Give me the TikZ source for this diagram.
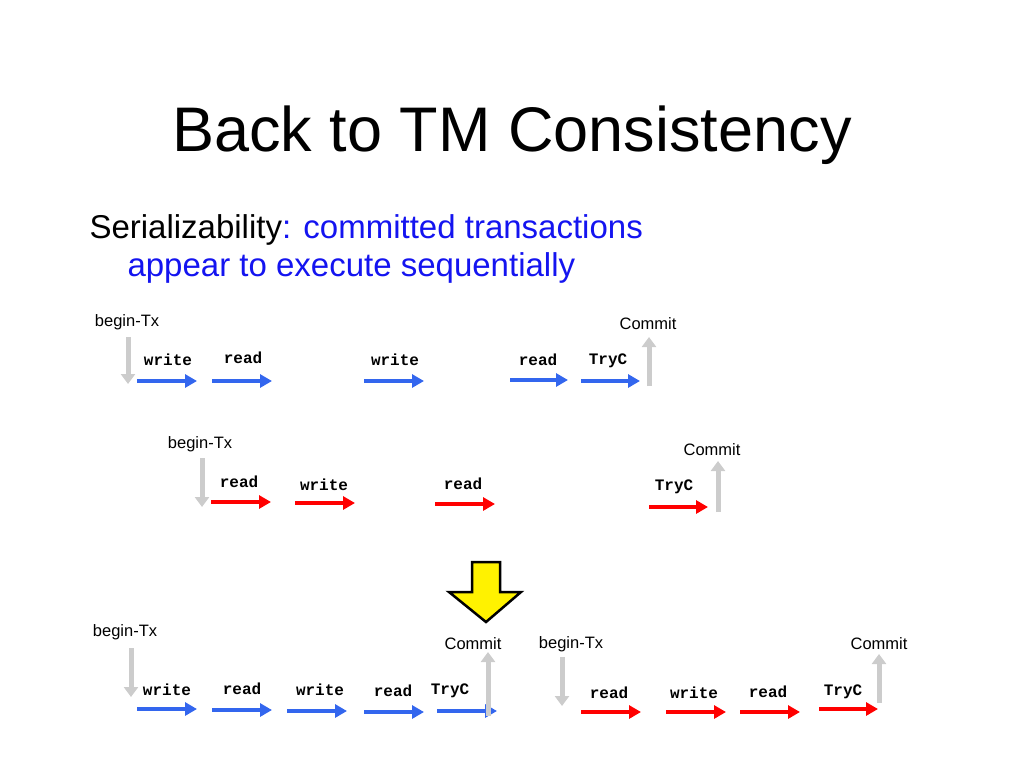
\documentclass[tikz,border=0pt]{standalone}
\usepackage{fontspec}
\setmainfont{Liberation Sans}
\setmonofont{Liberation Mono}
\usetikzlibrary{arrows.meta}
\definecolor{opblue}{RGB}{51,102,238}
\definecolor{txtblue}{RGB}{20,20,240}
\tikzset{
  op/.style={line width=4pt, -{Triangle[length=12pt,width=13pt]}},
  bluop/.style={op, draw=opblue},
  redop/.style={op, draw=red},
  bound/.style={line width=5pt, draw=black!20, -{Triangle[length=10pt,width=14pt]}},
  oplabel/.style={font=\ttfamily\bfseries\fontsize{16}{19}\selectfont},
  txlabel/.style={font=\fontsize{16.5}{19}\selectfont}
}
% one operation: name, from x, to x, y, label x, label y, text, colour style
\newcommand{\txop}[8]{
  \coordinate (#1s) at (#2,#4);
  \coordinate (#1e) at (#3,#4);
  \draw[#8] (#1s) -- (#1e);
  \node[oplabel] (#1l) at (#5,#6) {#7};
}
\begin{document}
\begin{tikzpicture}[x=1pt,y=-1pt]
  \useasboundingbox (0,0) rectangle (1024,768);

  \node[font=\fontsize{63}{70}\selectfont] (title) at (512,135) {Back to TM Consistency};
  \node[anchor=west, font=\fontsize{33}{38}\selectfont, align=left] (def) at (86,249)
    {Serializability\textcolor{txtblue}{: committed transactions}\\
     \hspace*{38pt}\textcolor{txtblue}{appear to execute sequentially}};

  % first transaction
  \node[txlabel] (b1) at (127,322) {begin-Tx};
  \coordinate (b1s) at (128,337); \coordinate (b1e) at (128,384);
  \draw[bound] (b1s) -- (b1e);
  \txop{a1}{137}{197}{381}{168}{360}{write}{bluop}
  \txop{a2}{212}{272}{381}{243}{358}{read}{bluop}
  \txop{a3}{364}{424}{381}{395}{360}{write}{bluop}
  \txop{a4}{510}{568}{380}{538}{360}{read}{bluop}
  \txop{a5}{581}{640}{381}{608}{361}{TryC}{bluop}
  \coordinate (c1s) at (649,386); \coordinate (c1e) at (649,337);
  \draw[bound] (c1s) -- (c1e);
  \node[txlabel] (c1) at (648,324) {Commit};

  % second transaction
  \node[txlabel] (b2) at (200,444) {begin-Tx};
  \coordinate (b2s) at (202,458); \coordinate (b2e) at (202,507);
  \draw[bound] (b2s) -- (b2e);
  \txop{r1}{211}{271}{502}{239}{482}{read}{redop}
  \txop{r2}{295}{355}{503}{324}{485}{write}{redop}
  \txop{r3}{435}{495}{504}{463}{484}{read}{redop}
  \txop{r4}{649}{708}{507}{674}{487}{TryC}{redop}
  \coordinate (c2s) at (718,512); \coordinate (c2e) at (718,461);
  \draw[bound] (c2s) -- (c2e);
  \node[txlabel] (c2) at (712,450) {Commit};

  % serialized
  \draw[line width=2.5pt, fill=yellow, line join=miter]
    (472,562) -- (500,562) -- (500,592) -- (521,592) -- (486,622)
    -- (449,592) -- (472,592) -- cycle;

  \node[txlabel] (b3) at (125,632) {begin-Tx};
  \coordinate (b3s) at (131,648); \coordinate (b3e) at (131,697);
  \draw[bound] (b3s) -- (b3e);
  \txop{s1}{137}{197}{709}{167}{690}{write}{bluop}
  \txop{s2}{212}{272}{710}{242}{689}{read}{bluop}
  \txop{s3}{287}{347}{711}{320}{690}{write}{bluop}
  \txop{s4}{364}{424}{712}{393}{691}{read}{bluop}
  \txop{s5}{437}{497}{711}{450}{691}{TryC}{bluop}
  \coordinate (c3s) at (488,716); \coordinate (c3e) at (488,652);
  \draw[bound] (c3s) -- (c3e);
  \node[txlabel] (c3) at (473,644) {Commit};

  \node[txlabel] (b4) at (571,644) {begin-Tx};
  \coordinate (b4s) at (562,657); \coordinate (b4e) at (562,706);
  \draw[bound] (b4s) -- (b4e);
  \txop{t1}{581}{641}{712}{609}{693}{read}{redop}
  \txop{t2}{666}{726}{712}{694}{693}{write}{redop}
  \txop{t3}{740}{800}{712}{768}{692}{read}{redop}
  \txop{t4}{819}{878}{709}{843}{692}{TryC}{redop}
  \coordinate (c4s) at (879,703); \coordinate (c4e) at (879,654);
  \draw[bound] (c4s) -- (c4e);
  \node[txlabel] (c4) at (879,644) {Commit};
\end{tikzpicture}
\end{document}
